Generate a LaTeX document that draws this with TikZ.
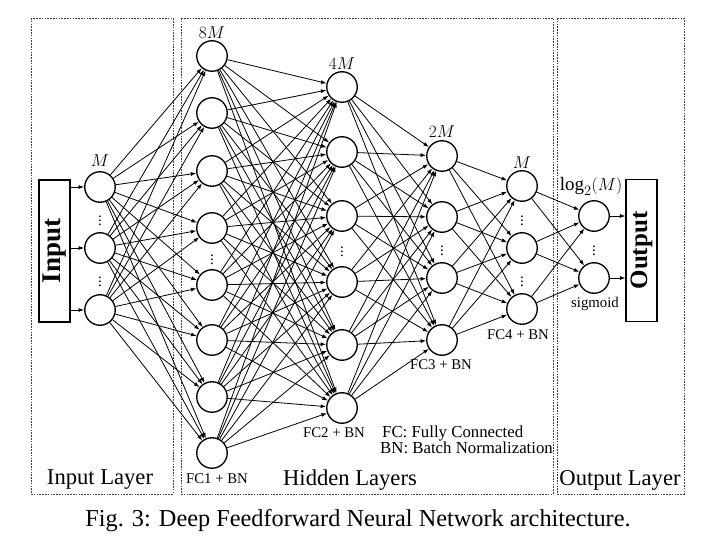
\documentclass[tikz,border=0pt]{standalone}
\usepackage{fontspec}
\setmainfont{Liberation Serif}
\usetikzlibrary{arrows.meta}
\begin{document}
\begin{tikzpicture}[x=1pt,y=-1pt,
  neuron/.style={circle,draw,line width=1.35pt,minimum size=30.5pt,inner sep=0pt,fill=white},
  edge/.style={line width=0.8pt,-{Latex[length=5.5pt,width=4pt]}},
  layerbox/.style={draw=black!75,line width=0.6pt,dash pattern=on 1.6pt off 1.2pt},
  iobox/.style={draw,line width=1.1pt,inner sep=0pt,minimum width=31pt,minimum height=142pt},
  iotext/.style={rotate=90,font=\bfseries,inner sep=0pt},
  mathlbl/.style={font=\fontsize{19}{19}\selectfont,inner sep=0pt},
  fclbl/.style={font=\fontsize{14.8}{15}\selectfont,inner sep=0pt},
  leg/.style={font=\fontsize{16.8}{17}\selectfont,inner sep=0pt,anchor=west},
  big/.style={font=\fontsize{22.6}{23}\selectfont,inner sep=0pt},
  vd/.style={font=\fontsize{15}{15}\selectfont,inner sep=0pt}
]
\useasboundingbox (0,0) rectangle (718,556);

% layer boxes
\draw[layerbox] (31,18) rectangle (173,494);
\draw[layerbox] (181,18) rectangle (553,494);
\draw[layerbox] (557,18) rectangle (684,494);

% input / output boxes
\node[iobox] (inrect) at (54.5,251) {};
\node[iotext,font=\fontsize{27}{27}\selectfont\bfseries] (intext) at (inrect.center) {Input};
\node[iobox] (outrect) at (641.5,250.5) {};
\node[iotext,font=\fontsize{25}{25}\selectfont\bfseries] (outtext) at (outrect.center) {Output};

% neurons
\foreach \y [count=\i] in {187,248,310} \node[neuron] (a\i) at (100,\y) {};
\foreach \y [count=\i] in {56,113,171,228,285,340,397,453} \node[neuron] (b\i) at (212,\y) {};
\foreach \y [count=\i] in {87,152,216,282,345,408} \node[neuron] (c\i) at (342,\y) {};
\foreach \y [count=\i] in {156,217,278,340} \node[neuron] (d\i) at (442,\y) {};
\foreach \y [count=\i] in {186,248,309} \node[neuron] (e\i) at (522,\y) {};
\foreach \y [count=\i] in {216,278} \node[neuron] (f\i) at (594,\y) {};

% vertical dots
\node[vd] (va1) at (100,218) {$\vdots$};
\node[vd] (va2) at (100,279) {$\vdots$};
\node[vd] (vb1) at (212,257) {$\vdots$};
\node[vd] (vc1) at (342,249) {$\vdots$};
\node[vd] (vd1) at (442,248) {$\vdots$};
\node[vd] (ve1) at (522,218) {$\vdots$};
\node[vd] (ve2) at (522,279) {$\vdots$};
\node[vd] (vf1) at (594,248) {$\vdots$};

% connections
\foreach \i in {1,...,3}{\foreach \j in {1,...,8}{\draw[edge] (a\i) -- (b\j);}}
\foreach \i in {1,...,8}{\foreach \j in {1,...,6}{\draw[edge] (b\i) -- (c\j);}}
\foreach \i in {1,...,6}{\foreach \j in {1,...,4}{\draw[edge] (c\i) -- (d\j);}}
\foreach \i in {1,...,4}{\foreach \j in {1,...,3}{\draw[edge] (d\i) -- (e\j);}}
\foreach \i in {1,...,3}{\foreach \j in {1,...,2}{\draw[edge] (e\i) -- (f\j);}}
\foreach \i in {1,...,3}{\draw[edge] (inrect.east |- a\i) -- (a\i);}
\foreach \i in {1,...,2}{\draw[edge] (f\i) -- (outrect.west |- f\i);}

% labels
\node[mathlbl] (lm0) at (100,161) {$M$};
\node[mathlbl] (lm1) at (212,33) {$8M$};
\node[mathlbl] (lm2) at (342,64) {$4M$};
\node[mathlbl] (lm3) at (442,132) {$2M$};
\node[mathlbl] (lm4) at (522,163) {$M$};
\node[mathlbl] (lm5) at (591,186) {$\log_2(M)$};

\node[fclbl] (fc1) at (217,479) {FC1 + BN};
\node[fclbl] (fc2) at (334,433) {FC2 + BN};
\node[fclbl] (fc3) at (441,365) {FC3 + BN};
\node[fclbl] (fc4) at (518,335) {FC4 + BN};
\node[fclbl] (sig) at (595,304) {sigmoid};

\node[leg] (leg1) at (382,433) {FC: Fully Connected};
\node[leg] (leg2) at (380,448) {BN: Batch Normalization};

\node[big] (inl) at (100,480) {Input Layer};
\node[big] (hdl) at (350,480) {Hidden Layers};
\node[big] (otl) at (620,480) {Output Layer};
\node[big,font=\fontsize{24.3}{25}\selectfont] (cap) at (358,521) {Fig. 3: Deep Feedforward Neural Network architecture.};
\end{tikzpicture}
\end{document}
